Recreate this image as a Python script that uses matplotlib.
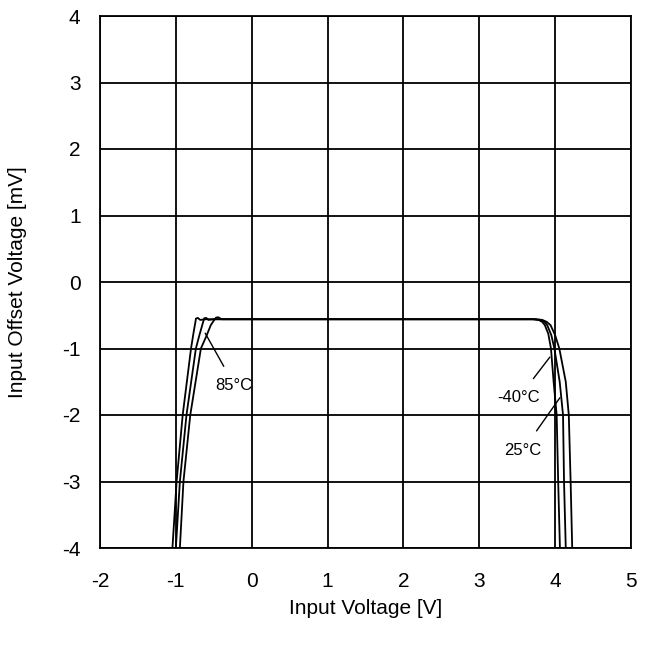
import matplotlib
matplotlib.use("Agg")
import matplotlib.pyplot as plt

plt.rcParams['font.family'] = ['Liberation Sans', 'DejaVu Sans']

# Data (Input Voltage [V], Input Offset Voltage [mV])
x_m40 = [-1.045, -0.99, -0.91, -0.80, -0.765, -0.745, -0.735, -0.71, -0.68, -0.60,
         0.0, 1.0, 2.0, 3.0, 3.70, 3.78, 3.83, 3.865, 3.91, 3.945, 3.98, 4.02, 4.04, 4.063]
y_m40 = [-4.0, -3.0, -2.0, -1.0, -0.75, -0.62, -0.55, -0.54, -0.57, -0.56,
         -0.56, -0.56, -0.56, -0.56, -0.56, -0.57, -0.60, -0.65, -0.78, -1.0, -1.5, -2.0, -3.0, -4.0]

x_25 = [-1.0, -0.947, -0.86, -0.736, -0.69, -0.66, -0.64, -0.626, -0.60, -0.57, -0.50,
        0.0, 1.0, 2.0, 3.0, 3.72, 3.81, 3.86, 3.896, 3.95, 3.99, 4.06, 4.104, 4.117, 4.14]
y_25 = [-4.0, -3.0, -2.0, -1.0, -0.80, -0.68, -0.60, -0.545, -0.54, -0.57, -0.56,
        -0.56, -0.56, -0.56, -0.56, -0.56, -0.57, -0.60, -0.65, -0.80, -1.0, -1.5, -2.0, -3.0, -4.0]

x_85 = [-0.947, -0.90, -0.81, -0.67, -0.60, -0.54, -0.50, -0.47, -0.44, -0.40, -0.30,
        0.0, 1.0, 2.0, 3.0, 3.74, 3.83, 3.89, 3.94, 4.0, 4.055, 4.14, 4.18, 4.204, 4.225]
y_85 = [-4.0, -3.0, -2.0, -1.0, -0.82, -0.65, -0.58, -0.535, -0.53, -0.56, -0.56,
        -0.56, -0.56, -0.56, -0.56, -0.56, -0.57, -0.60, -0.65, -0.80, -1.0, -1.5, -2.0, -3.0, -4.0]

x_ticks = [-2, -1, 0, 1, 2, 3, 4, 5]
y_ticks = [-4, -3, -2, -1, 0, 1, 2, 3, 4]

fig = plt.figure(figsize=(6.51, 6.49), dpi=100)
ax = fig.add_axes([100 / 651, 1 - 548 / 649, 531 / 651, 532 / 649])

for xs, ys in [(x_m40, y_m40), (x_25, y_25), (x_85, y_85)]:
    ax.plot(xs, ys, color='black', lw=1.3, zorder=3)

ax.set_xlim(-2, 5)
ax.set_ylim(-4, 4)
ax.set_xticks(x_ticks)
ax.set_yticks(y_ticks)
ax.set_xticklabels([str(v) for v in x_ticks])
ax.set_yticklabels([str(v) for v in y_ticks])
ax.grid(True, color='black', lw=1.3)
ax.set_axisbelow(True)
for s in ax.spines.values():
    s.set_linewidth(1.3)
ax.tick_params(length=0, labelsize=15)
ax.tick_params(axis='x', pad=17)
ax.tick_params(axis='y', pad=14)

ax.set_xlabel('Input Voltage [V]', fontsize=15)
ax.set_ylabel('Input Offset Voltage [mV]', fontsize=15)
ax.xaxis.set_label_coords(0.5, -(608 - 548) / 532)
ax.xaxis.label.set_va('center')
ax.yaxis.set_label_coords(-(100 - 18) / 531, 0.5)
ax.yaxis.label.set_va('center')

# annotations
ax.annotate('85°C', xy=(-0.613, -0.77), xytext=(-0.23, -1.55), fontsize=12,
            ha='center', va='center',
            arrowprops=dict(arrowstyle='-', color='black', lw=1.0, shrinkA=7, shrinkB=0))
ax.annotate('-40°C', xy=(3.93, -1.13), xytext=(3.52, -1.74), fontsize=12,
            ha='center', va='center',
            arrowprops=dict(arrowstyle='-', color='black', lw=1.0, shrinkA=8, shrinkB=0))
ax.annotate('25°C', xy=(4.063, -1.74), xytext=(3.575, -2.53), fontsize=12,
            ha='center', va='center',
            arrowprops=dict(arrowstyle='-', color='black', lw=1.0, shrinkA=8, shrinkB=0))

fig.savefig('out.png', dpi=100)
